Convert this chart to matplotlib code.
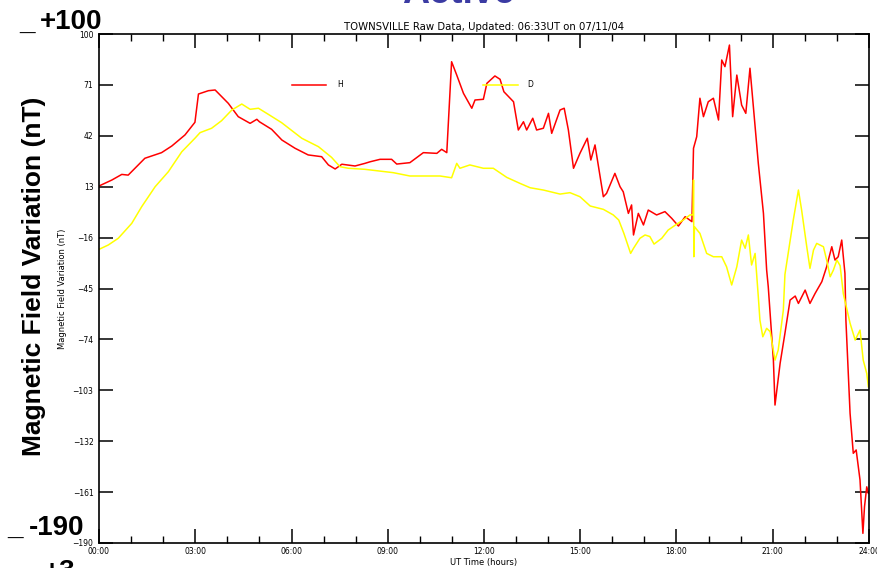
import matplotlib
matplotlib.use("Agg")
import matplotlib.pyplot as plt
from matplotlib.ticker import FixedLocator, MultipleLocator, FuncFormatter
from matplotlib.lines import Line2D

# ---------------------------------------------------------------
# Traced values (UT hours, nT)
# ---------------------------------------------------------------
h_hours = [0.00, 0.40, 0.71, 0.91, 1.43, 1.95, 2.27, 2.68, 2.99, 3.10, 3.41, 3.62,
           4.03, 4.34, 4.71, 4.92, 5.00, 5.38, 5.70, 6.11, 6.52, 6.94, 7.15, 7.36,
           7.57, 7.98, 8.29, 8.45, 8.76, 9.12, 9.28, 9.69, 10.11, 10.53, 10.68,
           10.84, 10.99, 11.15, 11.36, 11.62, 11.72, 11.98, 12.09, 12.34, 12.50,
           12.62, 12.92, 13.07, 13.23, 13.33, 13.52, 13.64, 13.85, 14.01, 14.11,
           14.37, 14.50, 14.63, 14.79, 14.99, 15.22, 15.33, 15.46, 15.72, 15.82,
           16.08, 16.24, 16.34, 16.50, 16.60, 16.66, 16.81, 16.97, 17.12, 17.38,
           17.64, 17.85, 18.06, 18.27, 18.48, 18.53, 18.63, 18.73, 18.84, 18.99,
           19.15, 19.31, 19.41, 19.51, 19.65, 19.75, 19.88, 20.03, 20.16, 20.29,
           20.40, 20.55, 20.71, 20.81, 20.86, 21.02, 21.07, 21.23, 21.38, 21.54,
           21.70, 21.80, 22.01, 22.16, 22.32, 22.53, 22.68, 22.84, 22.94, 23.04,
           23.15, 23.25, 23.28, 23.41, 23.51, 23.60, 23.72, 23.81, 23.86, 23.93,
           23.98]
h_values = [13.4, 16.8, 20.0, 19.6, 29.2, 32.4, 36.2, 42.5, 49.7, 65.8, 67.7, 68.1,
            60.5, 52.9, 49.1, 51.4, 50.0, 45.7, 39.6, 34.9, 31.1, 30.1, 25.4, 23.1,
            25.8, 24.8, 26.3, 27.2, 28.6, 28.6, 25.9, 26.7, 32.4, 32.0, 34.3,
            32.4, 84.2, 76.6, 66.2, 57.7, 62.4, 62.8, 71.9, 76.1, 74.2,
            67.1, 61.4, 45.3, 50.0, 45.3, 52.0, 45.3, 46.3, 54.8, 43.4,
            56.7, 57.7, 45.3, 23.5, 32.0, 40.6, 28.2, 36.8, 7.3, 9.2,
            20.6, 13.0, 10.1, -2.2, 2.6, -14.5, -2.2, -8.8, -0.3, -3.1,
            -1.2, -5.0, -9.4, -4.1, -6.9, 34.9, 41.5, 63.4, 52.9, 61.4,
            63.4, 51.0, 85.2, 81.4, 93.7, 52.9, 76.6, 59.5, 54.8, 80.5,
            57.7, 26.3, -2.2, -34.5, -44.0, -85.8, -111.4, -87.6, -70.5, -51.6,
            -49.3, -53.5, -45.9, -53.5, -47.8, -41.1, -32.6, -21.2, -28.8, -26.9,
            -17.4, -36.4, -63.0, -116.1, -138.9, -137.0, -154.1, -184.5, -169.3, -158.0,
            -161.7]

d_hours = [0.00, 0.29, 0.60, 1.02, 1.33, 1.75, 2.16, 2.58, 2.99, 3.15, 3.51, 3.82,
           4.14, 4.45, 4.71, 4.97, 5.28, 5.69, 6.32, 6.84, 7.25, 7.51, 7.77, 8.29,
           9.17, 9.69, 10.21, 10.63, 10.99, 11.15, 11.25, 11.56, 11.98, 12.29,
           12.71, 13.12, 13.44, 13.85, 14.37, 14.68, 14.99, 15.31, 15.72, 16.03,
           16.20, 16.36, 16.57, 16.66, 16.86, 17.02, 17.17, 17.30, 17.54, 17.74,
           18.01, 18.21, 18.42, 18.52, 18.53, 18.54, 18.56, 18.73, 18.94, 19.15,
           19.41, 19.56, 19.72, 19.88, 20.03, 20.14, 20.24, 20.34, 20.45, 20.55,
           20.60, 20.69, 20.81, 20.92, 21.07, 21.17, 21.33, 21.38, 21.64, 21.80,
           21.90, 22.06, 22.16, 22.27, 22.37, 22.58, 22.68, 22.79, 22.89, 23.00,
           23.10, 23.20, 23.41, 23.57, 23.72, 23.82, 23.93, 23.98]
d_values = [-22.7, -20.2, -16.4, -7.9, 1.6, 13.0, 21.5, 32.9, 40.6, 43.8, 46.3, 50.6,
            56.7, 60.1, 57.1, 57.7, 54.2, 49.5, 40.6, 35.8, 29.7, 24.4, 23.5, 22.9,
            21.0, 19.1, 19.1, 19.1, 18.1, 26.3, 23.5, 25.4, 23.5, 23.5,
            18.3, 14.9, 12.4, 11.1, 8.8, 9.6, 7.3, 2.0, 0.1, -3.1,
            -6.0, -13.6, -25.0, -22.1, -16.4, -14.5, -15.4, -19.7, -16.4, -11.7,
            -8.3, -6.0, -3.1, -3.0, 16.8, -26.9, -9.8, -13.6, -25.0, -26.9,
            -26.9, -32.6, -43.0, -32.6, -17.4, -22.1, -14.5, -31.6, -25.0, -49.7,
            -63.0, -72.5, -67.7, -69.6, -85.8, -80.1, -57.3, -37.0, -6.0, 11.1,
            -0.3, -21.2, -33.5, -23.1, -19.3, -21.2, -28.8, -38.3, -34.5, -28.8,
            -32.0, -48.0, -64.8, -74.4, -68.7, -85.8, -93.4, -101.0]

y_ticks = [100, 71, 42, 13, -16, -45, -74, -103, -132, -161, -190]
x_ticks = [0, 3, 6, 9, 12, 15, 18, 21, 24]
x_labels = ["00:00", "03:00", "06:00", "09:00", "12:00", "15:00", "18:00", "21:00", "24:00"]

W, H = 877, 568
fig = plt.figure(figsize=(W / 100, H / 100), dpi=100)
fig.patch.set_facecolor("white")

# axes box in pixels: x 99..869, y 34..543
ax = fig.add_axes([99 / W, (H - 543) / H, 770 / W, 509 / H])

ax.plot(h_hours, h_values, color="#ff0000", linewidth=1.1)
ax.plot(d_hours, d_values, color="#ffff00", linewidth=1.1)

ax.set_xlim(0, 24)
ax.set_ylim(-190, 100)

ax.yaxis.set_major_locator(FixedLocator(y_ticks))
ax.yaxis.set_major_formatter(FuncFormatter(lambda v, p: f"{int(round(v))}".replace("-", "\u2212")))
ax.set_xticks(x_ticks)
ax.set_xticklabels(x_labels)
ax.xaxis.set_minor_locator(MultipleLocator(1))

ax.tick_params(axis="both", which="major", direction="in", length=10, width=1.1,
               top=True, right=True, labelsize=5.5, pad=4, colors="black")
ax.tick_params(axis="x", which="minor", direction="in", length=5, width=1.0,
               top=True, bottom=True)
ax.tick_params(axis="x", which="major", pad=3)
for s in ax.spines.values():
    s.set_linewidth(1.2)
    s.set_color("black")

ax.set_title("TOWNSVILLE Raw Data, Updated: 06:33UT on 07/11/04",
             fontsize=7.3, pad=3)
ax.set_xlabel("UT Time (hours)", fontsize=6, labelpad=1)
ax.set_ylabel("Magnetic Field Variation (nT)", fontsize=6, labelpad=4)

# inline legend
ax.add_line(Line2D([0.251, 0.295], [0.90, 0.90], transform=ax.transAxes,
                   color="#ff0000", linewidth=1.1))
ax.text(0.309, 0.90, "H", transform=ax.transAxes, fontsize=5.5, va="center")
ax.add_line(Line2D([0.499, 0.544], [0.90, 0.90], transform=ax.transAxes,
                   color="#ffff00", linewidth=1.1))
ax.text(0.556, 0.90, "D", transform=ax.transAxes, fontsize=5.5, va="center")

# slide annotations around the plot
big = dict(fontfamily="Liberation Sans", fontweight="bold", color="black")
fig.text(458 / W, 1 - 3 / H, "Active", fontsize=27, ha="center", va="baseline",
         color="#3b3ba3", fontfamily="Liberation Sans", fontweight="bold")
fig.text(40 / W, 1 - 29 / H, "+100", fontsize=20, ha="left", va="baseline", **big)
fig.text(19 / W, 1 - 31 / H, "_", fontsize=20, ha="left", va="baseline", **big)
fig.text(29 / W, 1 - 535 / H, "-190", fontsize=20, ha="left", va="baseline", **big)
fig.text(7 / W, 1 - 536 / H, "_", fontsize=20, ha="left", va="baseline", **big)
fig.text(44 / W, 1 - 579 / H, "+3", fontsize=20, ha="left", va="baseline", **big)
fig.text(34 / W, 1 - 276 / H, "Magnetic Field Variation (nT)", fontsize=19,
         rotation=90, ha="center", va="center", **big)

fig.savefig("out.png", dpi=100, facecolor="white")
